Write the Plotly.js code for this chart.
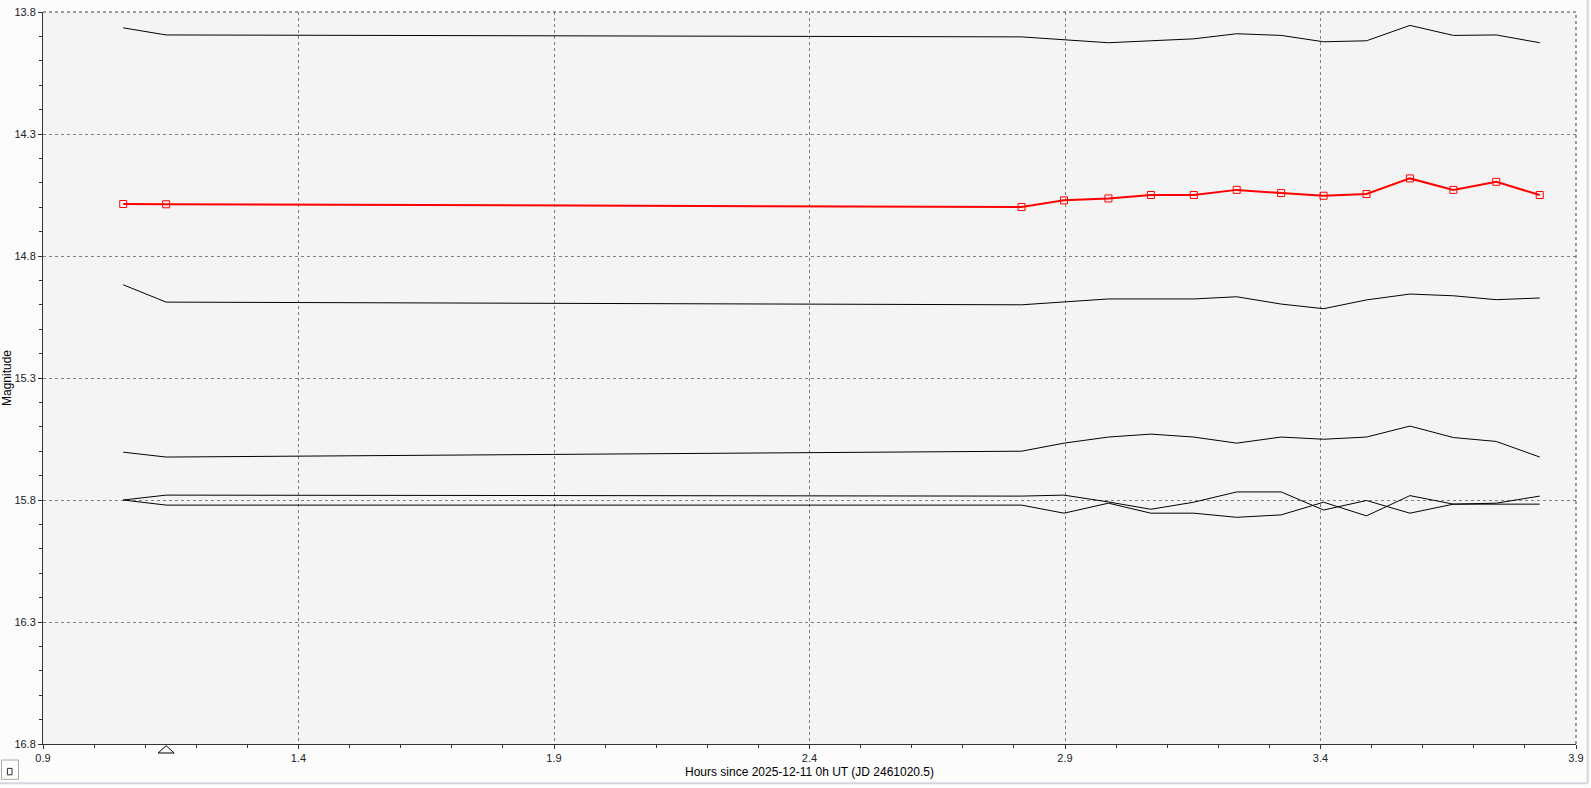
<!DOCTYPE html>
<html>
<head>
<meta charset="utf-8">
<script src="https://cdn.plot.ly/plotly-3.0.1.min.js"></script>
<style>
  html, body { margin: 0; padding: 0; background: #fcfcfc; }
  #chart { width: 1591px; height: 788px; }
</style>
</head>
<body>
<div id="chart"></div>
<script>
// Hours since 2025-12-11 0h UT
const hours = [1.057, 1.141, 2.815, 2.898, 2.985, 3.068, 3.152, 3.236, 3.323, 3.406, 3.490, 3.575, 3.660, 3.744, 3.829];

// Target (red) magnitudes
const targetMag = [14.587, 14.588, 14.599, 14.572, 14.564, 14.550, 14.550, 14.529, 14.542, 14.553, 14.546, 14.482, 14.529, 14.496, 14.550];

// Comparison / check star magnitudes (black)
const comp1Mag = [13.865, 13.894, 13.902, 13.913, 13.926, 13.918, 13.910, 13.889, 13.896, 13.922, 13.918, 13.855, 13.896, 13.894, 13.926];
const comp2Mag = [14.918, 14.989, 15.000, 14.989, 14.976, 14.976, 14.976, 14.967, 14.997, 15.016, 14.980, 14.956, 14.963, 14.979, 14.972];
const comp3Mag = [15.604, 15.624, 15.600, 15.567, 15.542, 15.530, 15.542, 15.567, 15.542, 15.551, 15.542, 15.497, 15.544, 15.560, 15.624];
const comp4Mag = [15.800, 15.780, 15.784, 15.780, 15.808, 15.838, 15.809, 15.767, 15.767, 15.841, 15.802, 15.854, 15.817, 15.817, 15.817];
const comp5Mag = [15.800, 15.821, 15.821, 15.854, 15.813, 15.854, 15.854, 15.871, 15.861, 15.809, 15.865, 15.782, 15.817, 15.813, 15.784];

// Marked (triangle) time
const markedHour = hours[1];

const xRange = [0.9, 3.9];
const yRange = [16.8, 13.8];

const xTitle = 'Hours since 2025-12-11 0h UT (JD 2461020.5)';
const yTitle = 'Magnitude';

const blackLine = (y) => ({
  x: hours, y: y, type: 'scatter', mode: 'lines',
  line: { color: '#000000', width: 1 }, hoverinfo: 'x+y', showlegend: false
});

const traces = [
  blackLine(comp1Mag),
  blackLine(comp2Mag),
  blackLine(comp3Mag),
  blackLine(comp4Mag),
  blackLine(comp5Mag),
  {
    x: hours, y: targetMag, type: 'scatter', mode: 'lines+markers',
    line: { color: '#ff0000', width: 2 },
    marker: { symbol: 'square-open', size: 7, color: '#ff0000', line: { width: 1, color: '#ff0000' } },
    showlegend: false
  }
];

const tickFont = { family: 'Liberation Sans, Arial, sans-serif', size: 11, color: '#222222' };
const titleFont = { family: 'Liberation Sans, Arial, sans-serif', size: 12, color: '#000000' };

// triangle marker under the x axis, centred on the marked time
const triHalf = 0.0157;
const triPath = 'M ' + (markedHour - triHalf) + ' -0.0123 L ' + markedHour + ' -0.0023 L ' + (markedHour + triHalf) + ' -0.0123 Z';

const layout = {
  width: 1591, height: 788,
  margin: { l: 43, r: 15, t: 12, b: 44, pad: 0 },
  paper_bgcolor: '#fcfcfc',
  plot_bgcolor: '#f4f4f4',
  showlegend: false,
  xaxis: {
    range: xRange, tick0: 0.9, dtick: 0.5, tickformat: '.1f',
    showgrid: true, gridcolor: '#808080', griddash: '3px,3px', gridwidth: 1,
    showline: true, linecolor: '#333333', linewidth: 1,
    ticks: 'outside', ticklen: 4, tickcolor: '#333333',
    minor: { dtick: 0.1, tick0: 0.9, ticks: 'outside', ticklen: 3, tickcolor: '#333333', showgrid: false },
    zeroline: false, tickfont: tickFont,
    title: { text: xTitle, font: titleFont, standoff: 4 }
  },
  yaxis: {
    range: yRange, tick0: 13.8, dtick: 0.5, tickformat: '.1f',
    showgrid: true, gridcolor: '#808080', griddash: '3px,3px', gridwidth: 1,
    showline: true, linecolor: '#333333', linewidth: 1,
    ticks: 'outside', ticklen: 4, tickcolor: '#333333',
    minor: { dtick: 0.1, tick0: 13.8, ticks: 'outside', ticklen: 3, tickcolor: '#333333', showgrid: false },
    zeroline: false, tickfont: tickFont,
    title: { text: yTitle, font: titleFont, standoff: 2 }
  },
  shapes: [
    // top & right frame (dashed, darker)
    { type: 'line', xref: 'paper', yref: 'paper', x0: 0, x1: 1, y0: 1, y1: 1, line: { color: '#444444', width: 1, dash: '3px,3px' } },
    { type: 'line', xref: 'paper', yref: 'paper', x0: 1, x1: 1, y0: 0, y1: 1, line: { color: '#444444', width: 1, dash: '3px,3px' } },
    // marked-time triangle
    { type: 'path', xref: 'x', yref: 'paper', path: triPath, line: { color: '#000000', width: 1 }, fillcolor: 'rgba(0,0,0,0)' },
    // small button in bottom-left corner
    { type: 'rect', xref: 'paper', yref: 'paper', x0: -0.0271, x1: -0.0160, y0: -0.0219, y1: -0.0483, line: { color: '#aaaaaa', width: 1 }, fillcolor: '#fdfdfd' },
    { type: 'rect', xref: 'paper', yref: 'paper', x0: -0.0232, x1: -0.0202, y0: -0.0333, y1: -0.0421, line: { color: '#333333', width: 1 }, fillcolor: 'rgba(0,0,0,0)' },
    // window border lines
    { type: 'line', xref: 'paper', yref: 'paper', x0: -0.03, x1: 1.0076, y0: -0.0537, y1: -0.0537, line: { color: '#d6d6de', width: 2 } },
    { type: 'line', xref: 'paper', yref: 'paper', x0: 1.0076, x1: 1.0076, y0: -0.0537, y1: 1.02, line: { color: '#d6d6de', width: 2 } }
  ]
};

Plotly.newPlot('chart', traces, layout, { displayModeBar: false, staticPlot: true });
</script>
</body>
</html>
